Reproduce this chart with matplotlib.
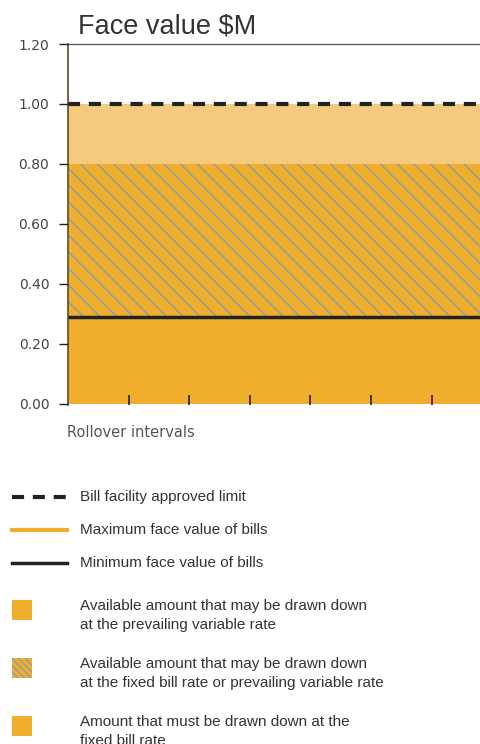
import numpy as np
import matplotlib
matplotlib.use('Agg')
import matplotlib.pyplot as plt
from matplotlib.patches import Rectangle

plt.rcParams['font.family'] = ['Liberation Sans', 'DejaVu Sans']
plt.rcParams['hatch.linewidth'] = 1.0

# Levels of the facility ($M)
min_face = 0.29
max_fixed = 0.80
limit = 1.00
y_ticks = [0.0, 0.2, 0.4, 0.6, 0.8, 1.0, 1.2]
y_tick_labels = ['0.00', '0.20', '0.40', '0.60', '0.80', '1.00', '1.20']
# Rollover interval markers
rollovers = [1, 2, 3, 4, 5, 6]
x_end = 6.8

legend_labels = ['Bill facility approved limit',
                 'Maximum face value of bills',
                 'Minimum face value of bills',
                 'Available amount that may be drawn down\nat the prevailing variable rate',
                 'Available amount that may be drawn down\nat the fixed bill rate or prevailing variable rate',
                 'Amount that must be drawn down at the\nfixed bill rate']

orange = '#EFAF2D'
light = '#F5CA7D'
dark = '#222222'
hatch_col = '#8E9BA9'
text_col = '#333333'
dash = (2.9, 2.1)

W, H = 480, 744
fig = plt.figure(figsize=(W / 100, H / 100), dpi=100)
ax = fig.add_axes([68 / W, 1 - 405 / H, 1 - 68 / W, 361 / H])

xs = np.array([0, x_end])
ax.fill_between(xs, 0, min_face, color=orange, lw=0)
ax.fill_between(xs, min_face, max_fixed, facecolor=orange, edgecolor=hatch_col,
                hatch='\\\\', lw=0)
ax.fill_between(xs, max_fixed, limit, color=light, lw=0)
ax.plot(xs, [min_face, min_face], color=dark, lw=2.5)
ax.plot(xs, [limit, limit], color=dark, lw=3, dashes=dash)

ax.set_xlim(0, x_end)
ax.set_ylim(-0.004, 1.2)
ax.set_yticks(y_ticks)
ax.set_yticklabels(y_tick_labels, family='DejaVu Sans')
ax.set_xticks(rollovers)
ax.set_xticklabels([])
ax.tick_params(axis='y', direction='out', length=6.5, width=1, color=dark,
               pad=7, labelsize=10, labelcolor='#444444')
ax.tick_params(axis='x', direction='in', length=7, width=1.2, color=dark)
ax.set_axisbelow(False)
for s in ['right', 'bottom']:
    ax.spines[s].set_visible(False)
ax.spines['top'].set_color('#555555')
ax.spines['top'].set_linewidth(0.9)
ax.spines['left'].set_color('#5a4a2a')
ax.spines['left'].set_linewidth(1.2)

fig.text(78 / W, 1 - 34 / H, 'Face value \\$M', fontsize=19.5, color=text_col,
         va='baseline', ha='left')
fig.text(67 / W, 1 - 432 / H, 'Rollover intervals', fontsize=10.5, color='#555555',
         va='center', ha='left', family='DejaVu Sans')

# manual legend in pixel space
lg = fig.add_axes([0, 0, 1, 1])
lg.set_xlim(0, W)
lg.set_ylim(H, 0)
lg.axis('off')
lg.patch.set_alpha(0)

line_rows = [497, 530, 563]
lg.plot([12, 67], [line_rows[0]] * 2, color=dark, lw=3, dashes=dash)
lg.plot([12, 67], [line_rows[1]] * 2, color=orange, lw=3)
lg.plot([12, 67], [line_rows[2]] * 2, color=dark, lw=2.5)
for y, lab in zip(line_rows, legend_labels[:3]):
    lg.text(80, y, lab, fontsize=11, color=text_col, va='center', ha='left')

box_rows = [610, 668, 726]
box_hatch = [None, '\\' * 5, None]
for y, lab, h in zip(box_rows, legend_labels[3:], box_hatch):
    lg.add_patch(Rectangle((12, y - 10), 20, 20, facecolor=orange,
                           edgecolor=hatch_col if h else orange, hatch=h, lw=0))
    lg.text(80, y - 11, lab, fontsize=11, color=text_col, va='top', ha='left',
            linespacing=1.45)

fig.savefig('out.png', dpi=100)
